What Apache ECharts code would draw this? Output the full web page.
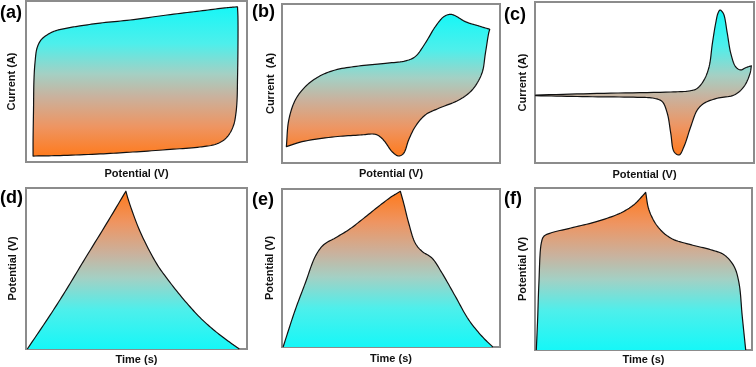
<!DOCTYPE html>
<html><head><meta charset="utf-8">
<script src="https://cdn.jsdelivr.net/npm/echarts@6/dist/echarts.min.js"></script>
<style>html,body{margin:0;padding:0;background:#fff}#c{width:756px;height:367px}</style>
</head><body><div id="c"></div>
<script>
// ---- data (normalised units, 0..100) ----
const panelLabels = ['(a)','(b)','(c)','(d)','(e)','(f)'];
const xNames = ['Potential (V)','Potential (V)','Potential (V)','Time (s)','Time (s)','Time (s)'];
const yNames = ['Current (A)','Current  (A)','Current (A)','Potential (V)','Potential (V)','Potential (V)'];

// (a) capacitive CV
const aForward = [[3.2,3.7],[3.2,13.7],[3.4,32.3],[3.6,50.9],[4.1,62.1],[5.0,70.8],[6.8,75.8],[9.5,78.9],[13.1,81.4],[18.6,83.2],[24.4,84.5],[33.5,86.3],[47.1,88.2],[63.8,91.3],[78.7,93.8],[90.0,95.7],[95.7,96.4]];
const aReverse = [[95.7,96.4],[95.9,90.0],[95.9,69.6],[95.7,50.9],[95.5,38.5],[95.0,30.4],[94.1,23.6],[92.3,18.0],[89.6,13.7],[85.5,10.9],[78.7,9.3],[65.2,7.8],[48.4,6.2],[33.5,5.0],[15.4,4.0],[3.2,3.7]];
// (b) pseudocapacitive CV
const bForward = [[2.0,10.3],[9.2,13.4],[24.3,16.5],[35.8,17.6],[42.7,18.1],[45.0,16.5],[47.2,13.4],[50.5,7.1],[53.5,4.4],[55.8,6.1],[58.1,14.5],[61.1,22.8],[65.7,30.2],[71.9,34.4],[81.1,39.6],[87.2,45.9],[91.7,56.4],[93.3,69.0],[94.8,81.6],[95.3,84.1]];
const bReverse = [[95.3,84.1],[90.2,86.2],[84.1,88.9],[79.5,92.6],[77.2,93.5],[74.2,92.0],[70.3,85.7],[65.7,75.3],[61.1,66.9],[56.6,64.2],[47.4,62.7],[35.2,61.0],[24.4,58.5],[16.8,54.3],[10.7,48.0],[6.1,39.6],[3.1,27.0],[2.0,10.3]];
// (c) battery-type CV
const cForward = [[0.3,42.2],[31.5,43.3],[62.0,44.1],[71.1,44.9],[74.1,46.4],[77.2,51.6],[79.5,59.8],[81.0,74.3],[82.5,86.8],[83.6,93.2],[84.5,95.0],[85.4,94.1],[86.3,91.9],[87.8,80.6],[89.4,68.1],[91.6,59.8],[93.9,57.8],[96.2,59.2],[98.8,60.4]];
const cReverse = [[98.8,60.4],[98.2,55.7],[95.4,47.4],[90.9,42.2],[83.2,40.2],[77.2,37.1],[74.1,32.9],[71.1,22.5],[68.0,10.1],[65.8,5.0],[63.5,7.0],[62.0,18.4],[60.4,30.9],[58.1,38.1],[54.3,40.2],[46.7,40.8],[23.9,41.2],[0.3,41.8]];
// (d) capacitive GCD
const dCharge = [[0.6,0],[10.9,21.0],[18.4,37.2],[25.9,54.3],[36.5,78.0],[45.2,98.0]];
const dDischarge = [[45.2,98.0],[46.3,92.7],[51.6,73.0],[59.1,53.0],[63.7,44.0],[71.2,31.0],[78.7,19.6],[84.8,12.0],[90.8,5.6],[96.5,0]];
// (e) pseudocapacitive GCD
const eCharge = [[0.5,0],[6.1,23.6],[10.7,40.5],[15.3,57.4],[19.1,64.7],[24.4,69.0],[30.6,74.2],[36.7,80.6],[44.4,89.1],[50.5,95.4],[54.3,98.5]];
const eDischarge = [[54.3,98.5],[55.8,91.1],[58.1,78.5],[61.1,65.8],[64.2,60.6],[68.8,56.3],[73.4,46.8],[79.5,32.1],[85.6,17.3],[91.7,6.8],[96.7,0]];
// (f) battery-type GCD
const fCharge = [[0.6,0],[1.2,18.5],[1.8,41.4],[2.9,66.0],[4.1,70.2],[7.2,72.2],[16.5,75.3],[28.7,79.4],[39.5,84.6],[45.6,89.7],[49.4,94.9],[51.0,97.3]];
const fDischarge = [[51.0,97.3],[52.5,86.6],[56.4,76.4],[62.5,69.1],[71.8,65.0],[81.0,61.9],[87.1,58.8],[91.7,51.7],[94.0,41.4],[95.5,20.8],[97.1,0]];

// ---- layout ----
const grids = [
  {left:26, top:1, width:221, height:161},
  {left:282, top:4, width:218, height:159},
  {left:535, top:2, width:219, height:161},
  {left:26, top:188, width:221, height:161},
  {left:282, top:189, width:218, height:158},
  {left:535, top:188, width:217, height:162}
];
const xGaps = [6,5,6,5,6,4];
const yGaps = [9,6,7,8,7,7];
const labelPos = [[0,4],[252,3],[504,6],[0,189],[252,191],[504,190]];

const cvStops = [
  {offset:0, color:'#16f7f7'},{offset:0.25, color:'#4eefeb'},{offset:0.45, color:'#a4d0c4'},
  {offset:0.6, color:'#c9b29e'},{offset:0.8, color:'#ee9562'},{offset:1, color:'#ff7a1c'}];
const gcdStops = cvStops.map(s => ({offset: 1 - s.offset, color: s.color})).reverse();

function crSmooth(p, n) {
  if (p.length < 3) return p.slice();
  const out = [p[0]];
  const d = (a,b) => Math.max(1e-4, Math.pow(Math.hypot(b[0]-a[0], b[1]-a[1]), 0.5));
  for (let i = 0; i < p.length - 1; i++) {
    const P1 = p[i], P2 = p[i+1];
    const P0 = i > 0 ? p[i-1] : [2*P1[0]-P2[0], 2*P1[1]-P2[1]];
    const P3 = i < p.length - 2 ? p[i+2] : [2*P2[0]-P1[0], 2*P2[1]-P1[1]];
    const t0 = 0, t1 = t0 + d(P0,P1), t2 = t1 + d(P1,P2), t3 = t2 + d(P2,P3);
    for (let k = 1; k <= n; k++) {
      const t = t1 + (t2 - t1) * k / n;
      const L = (A,B,ta,tb) => [(tb-t)/(tb-ta)*A[0] + (t-ta)/(tb-ta)*B[0], (tb-t)/(tb-ta)*A[1] + (t-ta)/(tb-ta)*B[1]];
      const A1 = L(P0,P1,t0,t1), A2 = L(P1,P2,t1,t2), A3 = L(P2,P3,t2,t3);
      const B1 = L(A1,A2,t0,t2), B2 = L(A2,A3,t1,t3);
      out.push(L(B1,B2,t1,t2));
    }
  }
  return out;
}

function makeSeries(idx, pieces, closed, stops) {
  return {
    type:'custom', xAxisIndex: idx, yAxisIndex: idx, silent:true, clip:false,
    data: [[50,50]],
    renderItem: function (params, api) {
      let pts = [];
      pieces.forEach((piece, i) => {
        const s = crSmooth(piece.map(v => api.coord(v)), 10);
        if (i > 0) s.shift();
        pts = pts.concat(s);
      });
      const grad = new echarts.graphic.LinearGradient(0,0,0,1, stops);
      const children = [{type:'polygon', shape:{points:pts}, style:{fill:grad, stroke: closed ? '#111' : null, lineWidth:1.2, lineJoin:'round'}}];
      if (!closed) children.push({type:'polyline', shape:{points:pts}, style:{fill:null, stroke:'#111', lineWidth:1.2, lineJoin:'round'}});
      return {type:'group', children: children};
    }
  };
}

const nameStyle = {fontFamily:'Liberation Sans, Arial, sans-serif', fontWeight:'bold', fontSize:11, color:'#111'};
const option = {
  animation:false,
  backgroundColor:'#fff',
  title: panelLabels.map((t,i) => ({text:t, left:labelPos[i][0], top:labelPos[i][1], padding:0,
    textStyle:{fontFamily:'Liberation Sans, Arial, sans-serif', fontWeight:'bold', fontSize:18, color:'#000'}})),
  grid: grids.map(g => Object.assign({show:true, borderColor:'#8c8c8c', borderWidth:2, backgroundColor:'transparent'}, g)),
  xAxis: grids.map((g,i) => ({type:'value', gridIndex:i, min:0, max:100, name:xNames[i], nameLocation:'middle', nameGap:xGaps[i],
    nameTextStyle:nameStyle, axisLine:{show:false}, axisTick:{show:false}, axisLabel:{show:false}, splitLine:{show:false}})),
  yAxis: grids.map((g,i) => ({type:'value', gridIndex:i, min:0, max:100, name:yNames[i], nameLocation:'middle', nameGap:yGaps[i],
    nameTextStyle:nameStyle, axisLine:{show:false}, axisTick:{show:false}, axisLabel:{show:false}, splitLine:{show:false}})),
  series: [
    makeSeries(0, [aForward, aReverse], true, cvStops),
    makeSeries(1, [bForward, bReverse], true, cvStops),
    makeSeries(2, [cForward, cReverse], true, cvStops),
    makeSeries(3, [dCharge, dDischarge], false, gcdStops),
    makeSeries(4, [eCharge, eDischarge], false, gcdStops),
    makeSeries(5, [fCharge, fDischarge], false, gcdStops)
  ]
};
const chart = echarts.init(document.getElementById('c'), null, {renderer:'canvas'});
chart.setOption(option);
</script></body></html>
